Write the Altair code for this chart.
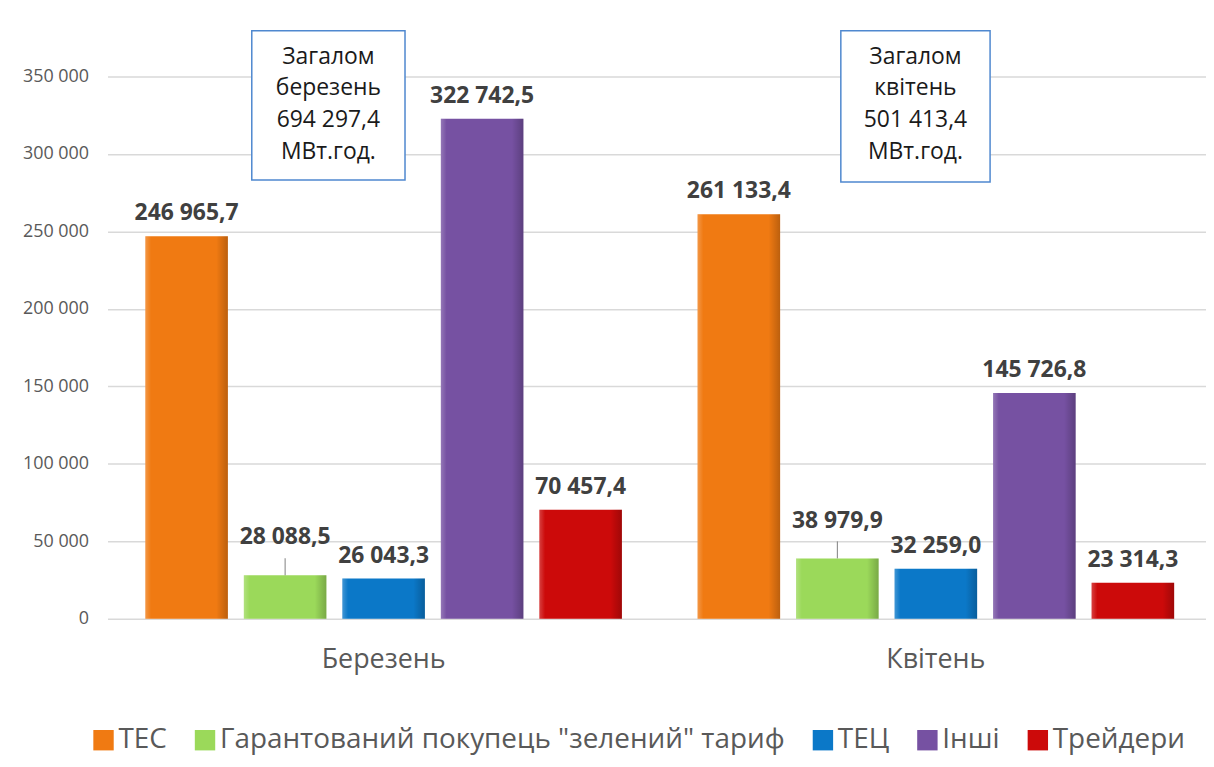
import altair as alt
import pandas as pd

# ---------------- data ----------------
months = ["Березень", "Квітень"]
series = ["ТЕС", "Гарантований покупець \"зелений\" тариф", "ТЕЦ", "Інші", "Трейдери"]
march_values = [246965.7, 28088.5, 26043.3, 322742.5, 70457.4]
april_values = [261133.4, 38979.9, 32259.0, 145726.8, 23314.3]
colors = ["#F07A12", "#9BD95A", "#0B78C8", "#7651A2", "#CC0A0A"]
y_ticks = [0, 50000, 100000, 150000, 200000, 250000, 300000, 350000]
total_march = "Загалом\nберезень\n694 297,4\nМВт.год."
total_april = "Загалом\nквітень\n501 413,4\nМВт.год."
leader_series = "Гарантований покупець \"зелений\" тариф"


def fmt(v):
    return f"{v:,.1f}".replace(",", " ").replace(".", ",")


rows = []
for m, vals in zip(months, [march_values, april_values]):
    for s, v in zip(series, vals):
        rows.append({"month": m, "series": s, "value": v, "label": fmt(v)})
df = pd.DataFrame(rows)

FONT = "Open Sans"

x_enc = alt.X(
    "month:N",
    sort=months,
    title=None,
    scale=alt.Scale(range=[0, 1110], paddingInner=0, paddingOuter=0),
    axis=alt.Axis(
        labelFontSize=27,
        labelFont=FONT,
        labelColor="#595959",
        labelPadding=28,
        labelAngle=0,
        ticks=False,
        domain=False,
        grid=False,
    ),
)
xo_enc = alt.XOffset(
    "series:N",
    sort=series,
    scale=alt.Scale(paddingInner=0.162, paddingOuter=0.384),
)
y_enc = alt.Y(
    "value:Q",
    title=None,
    scale=alt.Scale(domain=[0, 350000], nice=False, zero=True),
    axis=alt.Axis(
        values=y_ticks,
        labelExpr="replace(format(datum.value, ','), regexp(',', 'g'), ' ')",
        labelFontSize=18,
        labelFont=FONT,
        labelColor="#595959",
        labelPadding=19,
        ticks=False,
        domain=False,
        grid=True,
        gridColor="#d9d9d9",
        gridWidth=1.5,
    ),
)

base = alt.Chart(df)

bars = base.mark_bar(stroke=None).encode(
    x=x_enc,
    xOffset=xo_enc,
    y=y_enc,
    color=alt.Color(
        "series:N",
        sort=series,
        scale=alt.Scale(domain=series, range=colors),
        legend=alt.Legend(
            title=None,
            orient="none",
            legendX=-18,
            legendY=653,
            direction="horizontal",
            symbolType="square",
            symbolSize=420,
            symbolStrokeWidth=0,
            labelFontSize=28,
            labelFont=FONT,
            labelColor="#595959",
            labelLimit=0,
            columnPadding=24,
            labelOffset=1,
        ),
    ),
)

shade = alt.Gradient(
    gradient="linear",
    x1=0, x2=1, y1=0, y2=0,
    stops=[
        alt.GradientStop(offset=0, color="rgba(255,255,255,0.22)"),
        alt.GradientStop(offset=0.07, color="rgba(255,255,255,0)"),
        alt.GradientStop(offset=0.86, color="rgba(0,0,0,0)"),
        alt.GradientStop(offset=1, color="rgba(0,0,0,0.22)"),
    ],
)
bevel = base.mark_bar(fill=shade, stroke=None).encode(
    x=x_enc, xOffset=xo_enc, y=y_enc
)

labels = (
    base.transform_filter(alt.datum.series != leader_series)
    .mark_text(
        fontSize=23, fontWeight="bold", font=FONT, color="#404040",
        baseline="middle", dy=-23,
    )
    .encode(x=x_enc, xOffset=xo_enc, y=y_enc, text="label:N")
)

green_labels = (
    base.transform_filter(alt.datum.series == leader_series)
    .mark_text(
        fontSize=23, fontWeight="bold", font=FONT, color="#404040",
        baseline="middle", dy=-38,
    )
    .encode(x=x_enc, xOffset=xo_enc, y=y_enc, text="label:N")
)

leaders = (
    base.transform_filter(alt.datum.series == leader_series)
    .transform_calculate(top="datum.value + 11000")
    .mark_rule(color="#7f7f7f", strokeWidth=1)
    .encode(x=x_enc, xOffset=xo_enc, y=y_enc, y2="top:Q")
)

one = pd.DataFrame({"k": [0]})
box1 = alt.Chart(one).mark_rect(fill="white", stroke="#4F88CF", strokeWidth=1.5).encode(
    x=alt.value(145), x2=alt.value(299), y=alt.value(-46), y2=alt.value(104)
)
box2 = alt.Chart(one).mark_rect(fill="white", stroke="#4F88CF", strokeWidth=1.5).encode(
    x=alt.value(737), x2=alt.value(887), y=alt.value(-46), y2=alt.value(106)
)
txt1 = alt.Chart(one).mark_text(
    lineBreak="\n", fontSize=23, font=FONT, color="#1a1a1a", baseline="middle",
    align="center", lineHeight=32,
).encode(x=alt.value(222), y=alt.value(-20), text=alt.value(total_march))
txt2 = alt.Chart(one).mark_text(
    lineBreak="\n", fontSize=23, font=FONT, color="#1a1a1a", baseline="middle",
    align="center", lineHeight=32,
).encode(x=alt.value(812), y=alt.value(-20), text=alt.value(total_april))

chart = (
    alt.layer(bars, bevel, labels, green_labels, leaders, box1, box2, txt1, txt2)
    .properties(
        width=1104,
        height=545,
        padding={"left": 100, "top": 67, "right": 0, "bottom": 137},
        autosize=alt.AutoSizeParams(type="none"),
        background="white",
    )
    .configure_view(stroke=None)
)

chart.save("out.html", embed_options={"renderer": "svg", "actions": False})
